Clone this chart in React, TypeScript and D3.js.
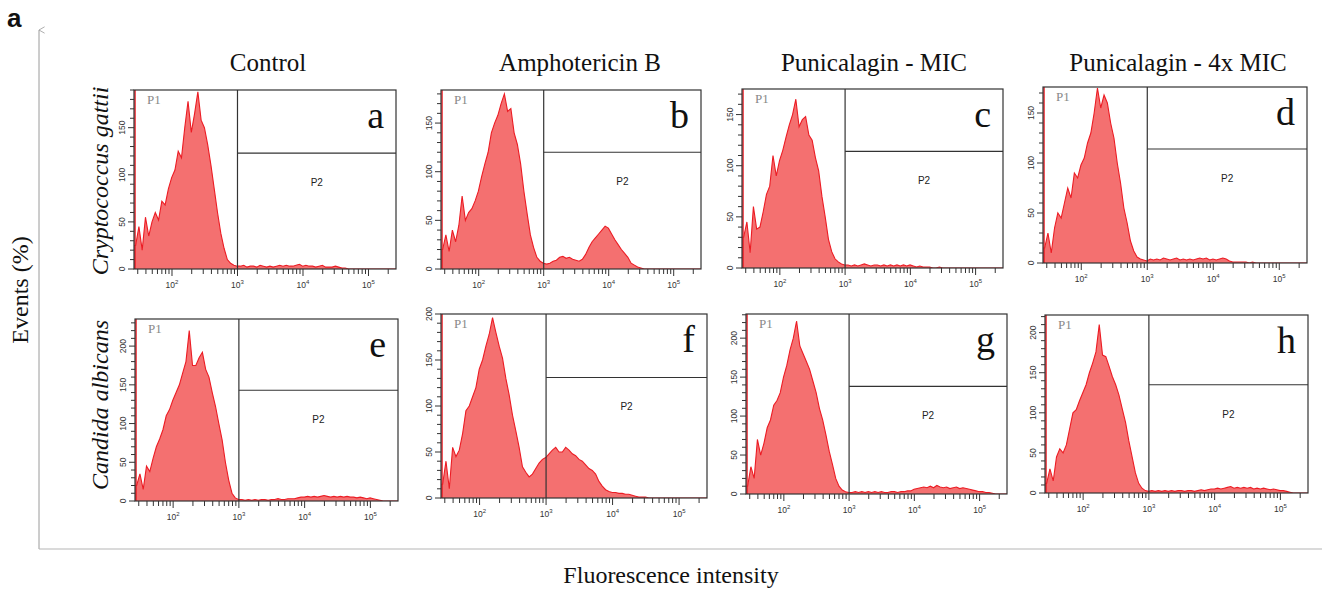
import * as d3 from "d3";

// log10 of the left display edge, bin width in decades, number of bins
const binStart = 1.42;
const binWidth = 0.05;
const binCount = 80;

const columnTitles = ["Control", "Amphotericin B", "Punicalagin - MIC", "Punicalagin - 4x MIC"];
const rowLabels = ["Cryptococcus gattii", "Candida albicans"];
const panelLetters = ["a", "b", "c", "d", "e", "f", "g", "h"];
const decadeTicks = [2, 3, 4, 5];

// events per bin (Cryptococcus gattii row)
const gattiiControl = [
  25, 45, 20, 55, 35, 50, 60, 52, 72, 68, 85, 97, 105, 125, 118, 150, 178, 145,
  165, 188, 158, 150, 132, 110, 85, 60, 38, 22, 10, 6, 4, 3, 3, 4, 2, 3,
  3, 2, 4, 3, 2, 3, 2, 3, 4, 3, 4, 3, 3, 4, 5, 3, 4, 3, 3, 2, 3, 4, 2, 2,
  2, 3, 2, 1, 1, 0, 0, 0, 0, 0, 0, 0, 0, 0, 0, 0, 0, 0, 0, 0,
];
const gattiiAmpho = [
  20, 35, 18, 40, 28, 45, 75, 50, 58, 62, 70, 80, 95, 108, 120, 140, 150, 158,
  170, 180, 162, 165, 140, 128, 108, 80, 57, 35, 22, 12, 8, 6, 5, 6, 8, 9,
  12, 13, 11, 12, 10, 9, 8, 10, 15, 22, 28, 32, 36, 40, 44, 42, 36, 30, 25, 20, 16, 12, 6, 4,
  2, 1, 0, 0, 0, 0, 0, 0, 0, 0, 0, 0, 0, 0, 0, 0, 0, 0, 0, 0,
];
const gattiiPunMic = [
  30, 45, 15, 60, 38, 40, 55, 72, 80, 110, 90, 105, 115, 128, 140, 150, 165, 138,
  145, 148, 130, 125, 108, 95, 70, 50, 28, 16, 9, 6, 4, 3, 3, 2, 3, 2,
  3, 4, 3, 2, 3, 3, 2, 3, 2, 3, 2, 3, 2, 3, 2, 3, 2, 1, 2, 1, 1, 1, 0, 0,
  1, 0, 0, 0, 0, 0, 0, 0, 0, 0, 0, 0, 0, 0, 0, 0, 0, 0, 0, 0,
];
const gattiiPun4Mic = [
  15, 30, 10, 35, 50, 45, 60, 75, 65, 90, 85, 98, 105, 120, 130, 150, 175, 155,
  168, 160, 140, 125, 100, 80, 55, 40, 22, 12, 6, 4, 3, 2, 4, 3, 4, 3,
  5, 4, 3, 4, 5, 3, 4, 3, 4, 3, 4, 5, 4, 5, 3, 4, 3, 4, 5, 4, 2, 1, 1, 1,
  1, 1, 0, 1, 0, 0, 0, 0, 0, 0, 0, 0, 0, 0, 0, 0, 0, 0, 0, 0,
];
// Candida albicans row
const albicansControl = [
  20, 35, 15, 45, 38, 55, 70, 80, 92, 110, 118, 130, 140, 150, 165, 180, 220, 175,
  175, 185, 192, 170, 160, 140, 122, 100, 79, 50, 27, 10, 4, 2, 2, 1, 2, 1,
  2, 1, 2, 2, 1, 2, 2, 3, 2, 2, 3, 3, 3, 4, 5, 5, 6, 5, 6, 5, 6, 7, 6, 5,
  6, 5, 6, 5, 6, 5, 5, 4, 5, 4, 3, 4, 3, 2, 1, 0, 0, 0, 0, 0,
];
const albicansAmpho = [
  15, 40, 10, 55, 45, 52, 70, 95, 100, 110, 120, 140, 150, 165, 178, 196, 180, 165,
  152, 130, 112, 90, 73, 55, 34, 28, 23, 26, 32, 38, 42, 44, 48, 52, 55, 50,
  50, 55, 52, 48, 46, 42, 40, 36, 32, 30, 26, 18, 13, 9, 7, 6, 6, 5, 5, 4, 4, 3, 2, 1,
  1, 1, 0, 0, 0, 0, 0, 0, 0, 0, 0, 0, 0, 0, 0, 0, 0, 0, 0, 0,
];
const albicansPunMic = [
  10, 35, 20, 70, 50, 65, 85, 95, 114, 120, 130, 150, 165, 185, 200, 222, 190, 180,
  170, 160, 145, 130, 110, 95, 76, 55, 38, 20, 10, 5, 3, 2, 2, 3, 2, 3,
  2, 3, 2, 3, 2, 3, 2, 2, 3, 3, 2, 3, 3, 4, 4, 6, 7, 8, 9, 8, 10, 8, 11, 9,
  8, 9, 7, 8, 9, 7, 8, 7, 6, 5, 4, 3, 3, 2, 2, 1, 0, 0, 0, 0,
];
const albicansPun4Mic = [
  12, 30, 15, 45, 55, 50, 60, 80, 100, 104, 115, 125, 135, 150, 162, 176, 210, 172,
  170, 158, 145, 135, 122, 105, 88, 65, 45, 25, 12, 6, 3, 2, 3, 2, 3, 2,
  3, 2, 3, 2, 3, 3, 2, 3, 3, 2, 3, 4, 3, 4, 5, 5, 6, 5, 6, 7, 8, 6, 7, 6,
  7, 6, 7, 5, 6, 5, 6, 5, 4, 5, 4, 3, 3, 2, 1, 0, 0, 0, 0, 0,
];

const panelSeries = [
  gattiiControl, gattiiAmpho, gattiiPunMic, gattiiPun4Mic,
  albicansControl, albicansAmpho, albicansPunMic, albicansPun4Mic,
];
const yMaxes = [190, 184, 175, 176, 235, 200, 231, 222];
const gateLevels = [123, 120, 114, 114, 143, 131, 138, 135];

// panel frames in page pixels: [left, top, right, bottom]
const panelBoxes = [
  [134, 90, 396, 269],
  [441, 90, 701, 269],
  [742, 89, 1003, 268],
  [1043, 87, 1307, 263],
  [135, 319, 398, 501],
  [441, 314, 707, 498],
  [746, 314, 1007, 494],
  [1045, 315, 1308, 493],
];
const titleCenters = [268, 580, 874, 1178];
const rowCenters = [181, 405];

const serif = "'Liberation Serif', 'Times New Roman', serif";
const sans = "'Liberation Sans', Arial, sans-serif";

function Histogram({ index }: { index: number }) {
  const [x0, y0, x1, y1] = panelBoxes[index];
  const values = panelSeries[index];
  const yMax = yMaxes[index];
  const lo = 10 ** binStart;
  const hi = 10 ** (binStart + binCount * binWidth);

  const x = d3.scaleLog().domain([lo, hi]).range([x0, x1]);
  const y = d3.scaleLinear().domain([0, yMax]).range([y1, y0]);

  // points at bin centres, pinned to the frame edges
  const centres = d3.range(binCount).map((i) => 10 ** (binStart + (i + 0.5) * binWidth));
  const pts: [number, number][] = values.map((v, i) => [centres[i], v]);
  pts.unshift([lo, values[0]]);
  pts.push([hi, values[binCount - 1]]);

  const area = d3
    .area<[number, number]>()
    .x((d) => x(d[0]))
    .y0(y(0))
    .y1((d) => y(d[1]));
  const line = d3
    .line<[number, number]>()
    .x((d) => x(d[0]))
    .y((d) => y(d[1]));

  const gateX = x(1000);
  const gateY = y(gateLevels[index]);

  // log minor ticks
  const xTicks: { v: number; major: boolean }[] = [];
  for (let dec = 1; dec <= 5; dec++) {
    for (let m = 1; m <= 9; m++) {
      const v = m * 10 ** dec;
      if (v >= lo && v <= hi) xTicks.push({ v, major: m === 1 });
    }
  }
  const yTicks = d3.range(0, yMax + 1, 10);
  const clipId = `clip-${index}`;

  return (
    <g>
      <clipPath id={clipId}>
        <rect x={x0} y={y0} width={x1 - x0} height={y1 - y0} />
      </clipPath>
      <g clipPath={`url(#${clipId})`}>
        <path d={area(pts) ?? ""} fill="#f47070" />
        <path d={line(pts) ?? ""} fill="none" stroke="#ec1c24" strokeWidth={1.1} strokeLinejoin="miter" />
        <line x1={x0 + 1} x2={x0 + 1} y1={y0} y2={y1} stroke="#ec1c24" strokeWidth={1.5} />
      </g>
      <rect x={x0} y={y0} width={x1 - x0} height={y1 - y0} fill="none" stroke="#333" strokeWidth={1.2} />
      <line x1={gateX} x2={gateX} y1={y0} y2={y1} stroke="#333" strokeWidth={1.2} />
      <line x1={gateX} x2={x1} y1={gateY} y2={gateY} stroke="#333" strokeWidth={1.2} />
      <text x={x0 + 13} y={y0 + 14} fontFamily={serif} fontSize={13} fill="#888">
        P1
      </text>
      <text x={(gateX + x1) / 2} y={gateY + 33} fontFamily={sans} fontSize={10} textAnchor="middle" fill="#222">
        P2
      </text>
      <text x={x1 - 12} y={y0 + 38} fontFamily={serif} fontSize={38} textAnchor="end" fill="#111">
        {panelLetters[index]}
      </text>
      {xTicks.map((t, i) => (
        <line key={i} x1={x(t.v)} x2={x(t.v)} y1={y1} y2={y1 + (t.major ? 7 : 5)} stroke="#333" strokeWidth={1} />
      ))}
      {decadeTicks.map((d) => (
        <text key={d} x={x(10 ** d)} y={y1 + 19} fontFamily={sans} fontSize={8.5} textAnchor="middle" fill="#333">
          10
          <tspan dy={-4} fontSize={6}>
            {d}
          </tspan>
        </text>
      ))}
      {yTicks.map((t) => (
        <line key={t} x1={x0} x2={x0 - (t % 50 === 0 ? 6 : 4)} y1={y(t)} y2={y(t)} stroke="#333" strokeWidth={1} />
      ))}
      {yTicks
        .filter((t) => t % 50 === 0)
        .map((t) => (
          <text
            key={t}
            transform={`translate(${x0 - 9},${y(t)}) rotate(-90)`}
            fontFamily={sans}
            fontSize={8.5}
            textAnchor="middle"
            fill="#333"
          >
            {t}
          </text>
        ))}
    </g>
  );
}

export default function App() {
  const width = 1322;
  const height = 592;
  return (
    <svg
      width={width}
      height={height}
      style={{ position: "absolute", left: 0, top: 0, background: "#fff" }}
    >
      <defs>
        <marker id="arrow" viewBox="0 0 10 10" refX="5" refY="1" markerWidth="8" markerHeight="8" orient="auto-start-reverse">
          <path d="M1,8 L5,1 L9,8" fill="none" stroke="#999" strokeWidth={1} />
        </marker>
      </defs>
      <text x={7} y={27} fontFamily={sans} fontWeight="bold" fontSize={26} fill="#111">
        a
      </text>
      <path d="M39,549 L39,30" stroke="#9a9a9a" strokeWidth={1} fill="none" markerEnd="url(#arrow)" />
      <line x1={39} x2={1322} y1={549} y2={549} stroke="#b5b5b5" strokeWidth={1.2} />
      <text transform="translate(28,290) rotate(-90)" fontFamily={serif} fontSize={24} textAnchor="middle" fill="#111">
        Events (%)
      </text>
      <text x={671} y={583} fontFamily={serif} fontSize={24} textAnchor="middle" fill="#111">
        Fluorescence intensity
      </text>
      {columnTitles.map((t, i) => (
        <text key={t} x={titleCenters[i]} y={71} fontFamily={serif} fontSize={25} textAnchor="middle" fill="#111">
          {t}
        </text>
      ))}
      {rowLabels.map((t, i) => (
        <text
          key={t}
          transform={`translate(108,${rowCenters[i]}) rotate(-90)`}
          fontFamily={serif}
          fontStyle="italic"
          fontSize={24}
          textAnchor="middle"
          fill="#111"
        >
          {t}
        </text>
      ))}
      {panelSeries.map((_, i) => (
        <Histogram key={i} index={i} />
      ))}
    </svg>
  );
}
